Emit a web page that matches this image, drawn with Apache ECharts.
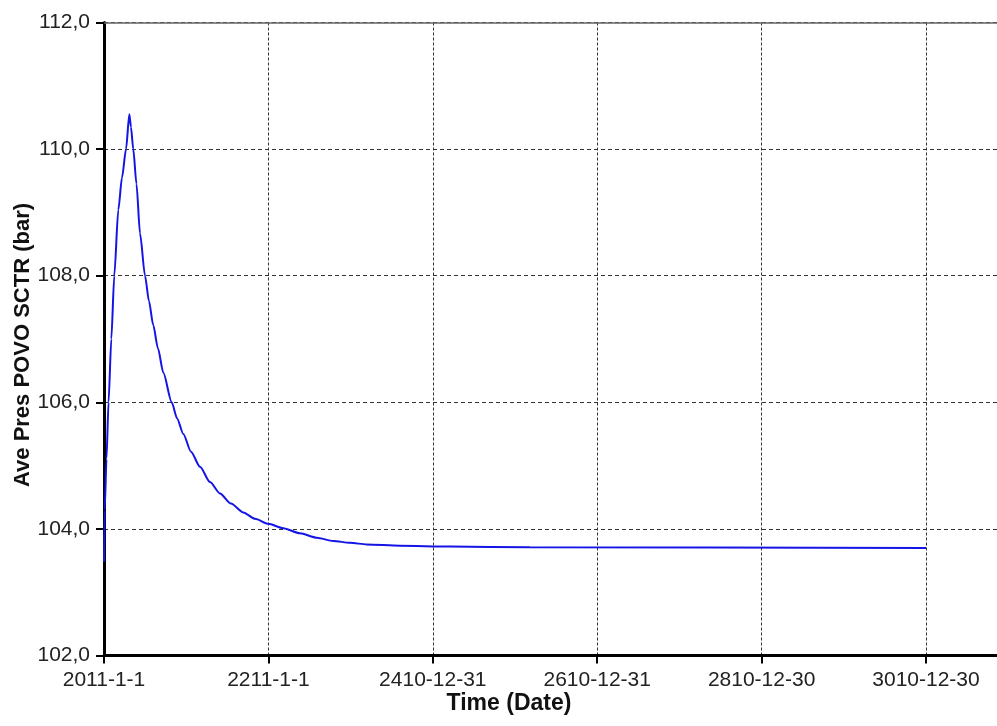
<!DOCTYPE html>
<html>
<head>
<meta charset="utf-8">
<script src="https://cdn.jsdelivr.net/npm/echarts@6/dist/echarts.min.js"></script>
<style>html,body{margin:0;padding:0;background:#fff;}#chart{width:997px;height:726px;}</style>
</head>
<body>
<div id="chart"></div>
<script>
// Years elapsed since 2011-1-1
var yearsSinceStart = [0, 0.85, 3.0, 5.5, 8.9, 12.5, 17.4, 21.9, 26.8, 30.8, 32.8, 35.6, 39.5, 43.8, 49.9, 54.7, 59.9, 65.7, 72.1, 82.4, 88.8, 96.5, 105.8, 116.8, 129, 141.1, 154.5, 169.5, 183.7, 199.9, 218.1, 238.4, 258.8, 279, 299.3, 319.6, 360, 421, 518, 1000];
// Ave Pres POVO SCTR (bar)
var pressure = [103.48, 104.3, 105.1, 106.0, 107.0, 108.0, 109.04, 109.55, 110.0, 110.55, 110.35, 110.0, 109.45, 108.67, 108.0, 107.6, 107.22, 106.85, 106.47, 106.0, 105.75, 105.5, 105.22, 104.98, 104.74, 104.56, 104.40, 104.26, 104.16, 104.08, 104.01, 103.93, 103.86, 103.81, 103.78, 103.755, 103.735, 103.72, 103.71, 103.70];

var xTickYears = [0, 200, 400, 600, 800, 1000];
var xTickLabels = ['2011-1-1', '2211-1-1', '2410-12-31', '2610-12-31', '2810-12-30', '3010-12-30'];
var yTickValues = [102, 104, 106, 108, 110, 112];
var yTickLabels = ['102,0', '104,0', '106,0', '108,0', '110,0', '112,0'];

var seriesData = yearsSinceStart.map(function (t, i) { return [t, pressure[i]]; });

function xLabel(v) {
  for (var i = 0; i < xTickYears.length; i++) {
    if (Math.abs(v - xTickYears[i]) < 1e-6) return xTickLabels[i];
  }
  return '';
}
function yLabel(v) {
  for (var i = 0; i < yTickValues.length; i++) {
    if (Math.abs(v - yTickValues[i]) < 1e-6) return yTickLabels[i];
  }
  return '';
}

var chart = echarts.init(document.getElementById('chart'), null, { renderer: 'canvas' });
var FONT = 'Liberation Sans, Arial, sans-serif';
chart.setOption({
  animation: false,
  backgroundColor: '#ffffff',
  grid: { left: 104, right: -20, top: 22.5, bottom: 70.5, containLabel: false, outerBoundsMode: 'none' },
  xAxis: [{
    type: 'value',
    min: 0,
    max: 1110.7,
    interval: 200,
    position: 'bottom',
    axisLine: { show: true, onZero: false, lineStyle: { color: '#000', width: 3 } },
    axisTick: { show: true, length: 8, lineStyle: { color: '#000', width: 2 } },
    axisLabel: { formatter: xLabel, margin: 14, color: '#222', fontSize: 21, fontFamily: FONT, showMaxLabel: false },
    splitLine: { show: true, lineStyle: { color: '#333', width: 1, type: [3, 2] } }
  }, {
    type: 'value',
    min: 0,
    max: 1110.7,
    position: 'top',
    axisLine: { show: true, onZero: false, lineStyle: { color: '#666', width: 1.5 } },
    axisTick: { show: false },
    axisLabel: { show: false },
    splitLine: { show: false }
  }],
  yAxis: {
    type: 'value',
    min: 102,
    max: 112,
    interval: 2,
    axisLine: { show: true, onZero: false, lineStyle: { color: '#000', width: 3 } },
    axisTick: { show: true, length: 8, lineStyle: { color: '#000', width: 2 } },
    axisLabel: { formatter: yLabel, margin: 14, color: '#222', fontSize: 21, fontFamily: FONT },
    splitLine: { show: true, lineStyle: { color: '#333', width: 1, type: [4, 3] } }
  },
  graphic: [{
    type: 'text',
    x: 509,
    y: 704,
    style: {
      text: 'Time (Date)',
      textAlign: 'center',
      textVerticalAlign: 'middle',
      fill: '#111',
      font: 'bold 23px Liberation Sans, Arial, sans-serif'
    }
  }, {
    type: 'text',
    x: 23,
    y: 345,
    rotation: Math.PI / 2,
    style: {
      text: 'Ave Pres POVO SCTR (bar)',
      textAlign: 'center',
      textVerticalAlign: 'middle',
      fill: '#111',
      font: 'bold 22px Liberation Sans, Arial, sans-serif'
    }
  }],
  series: [{
    type: 'line',
    xAxisIndex: 0,
    data: seriesData,
    showSymbol: false,
    smooth: 0.25,
    smoothMonotone: 'x',
    lineStyle: { color: '#1414e6', width: 2 },
    clip: true
  }]
});
</script>
</body>
</html>
